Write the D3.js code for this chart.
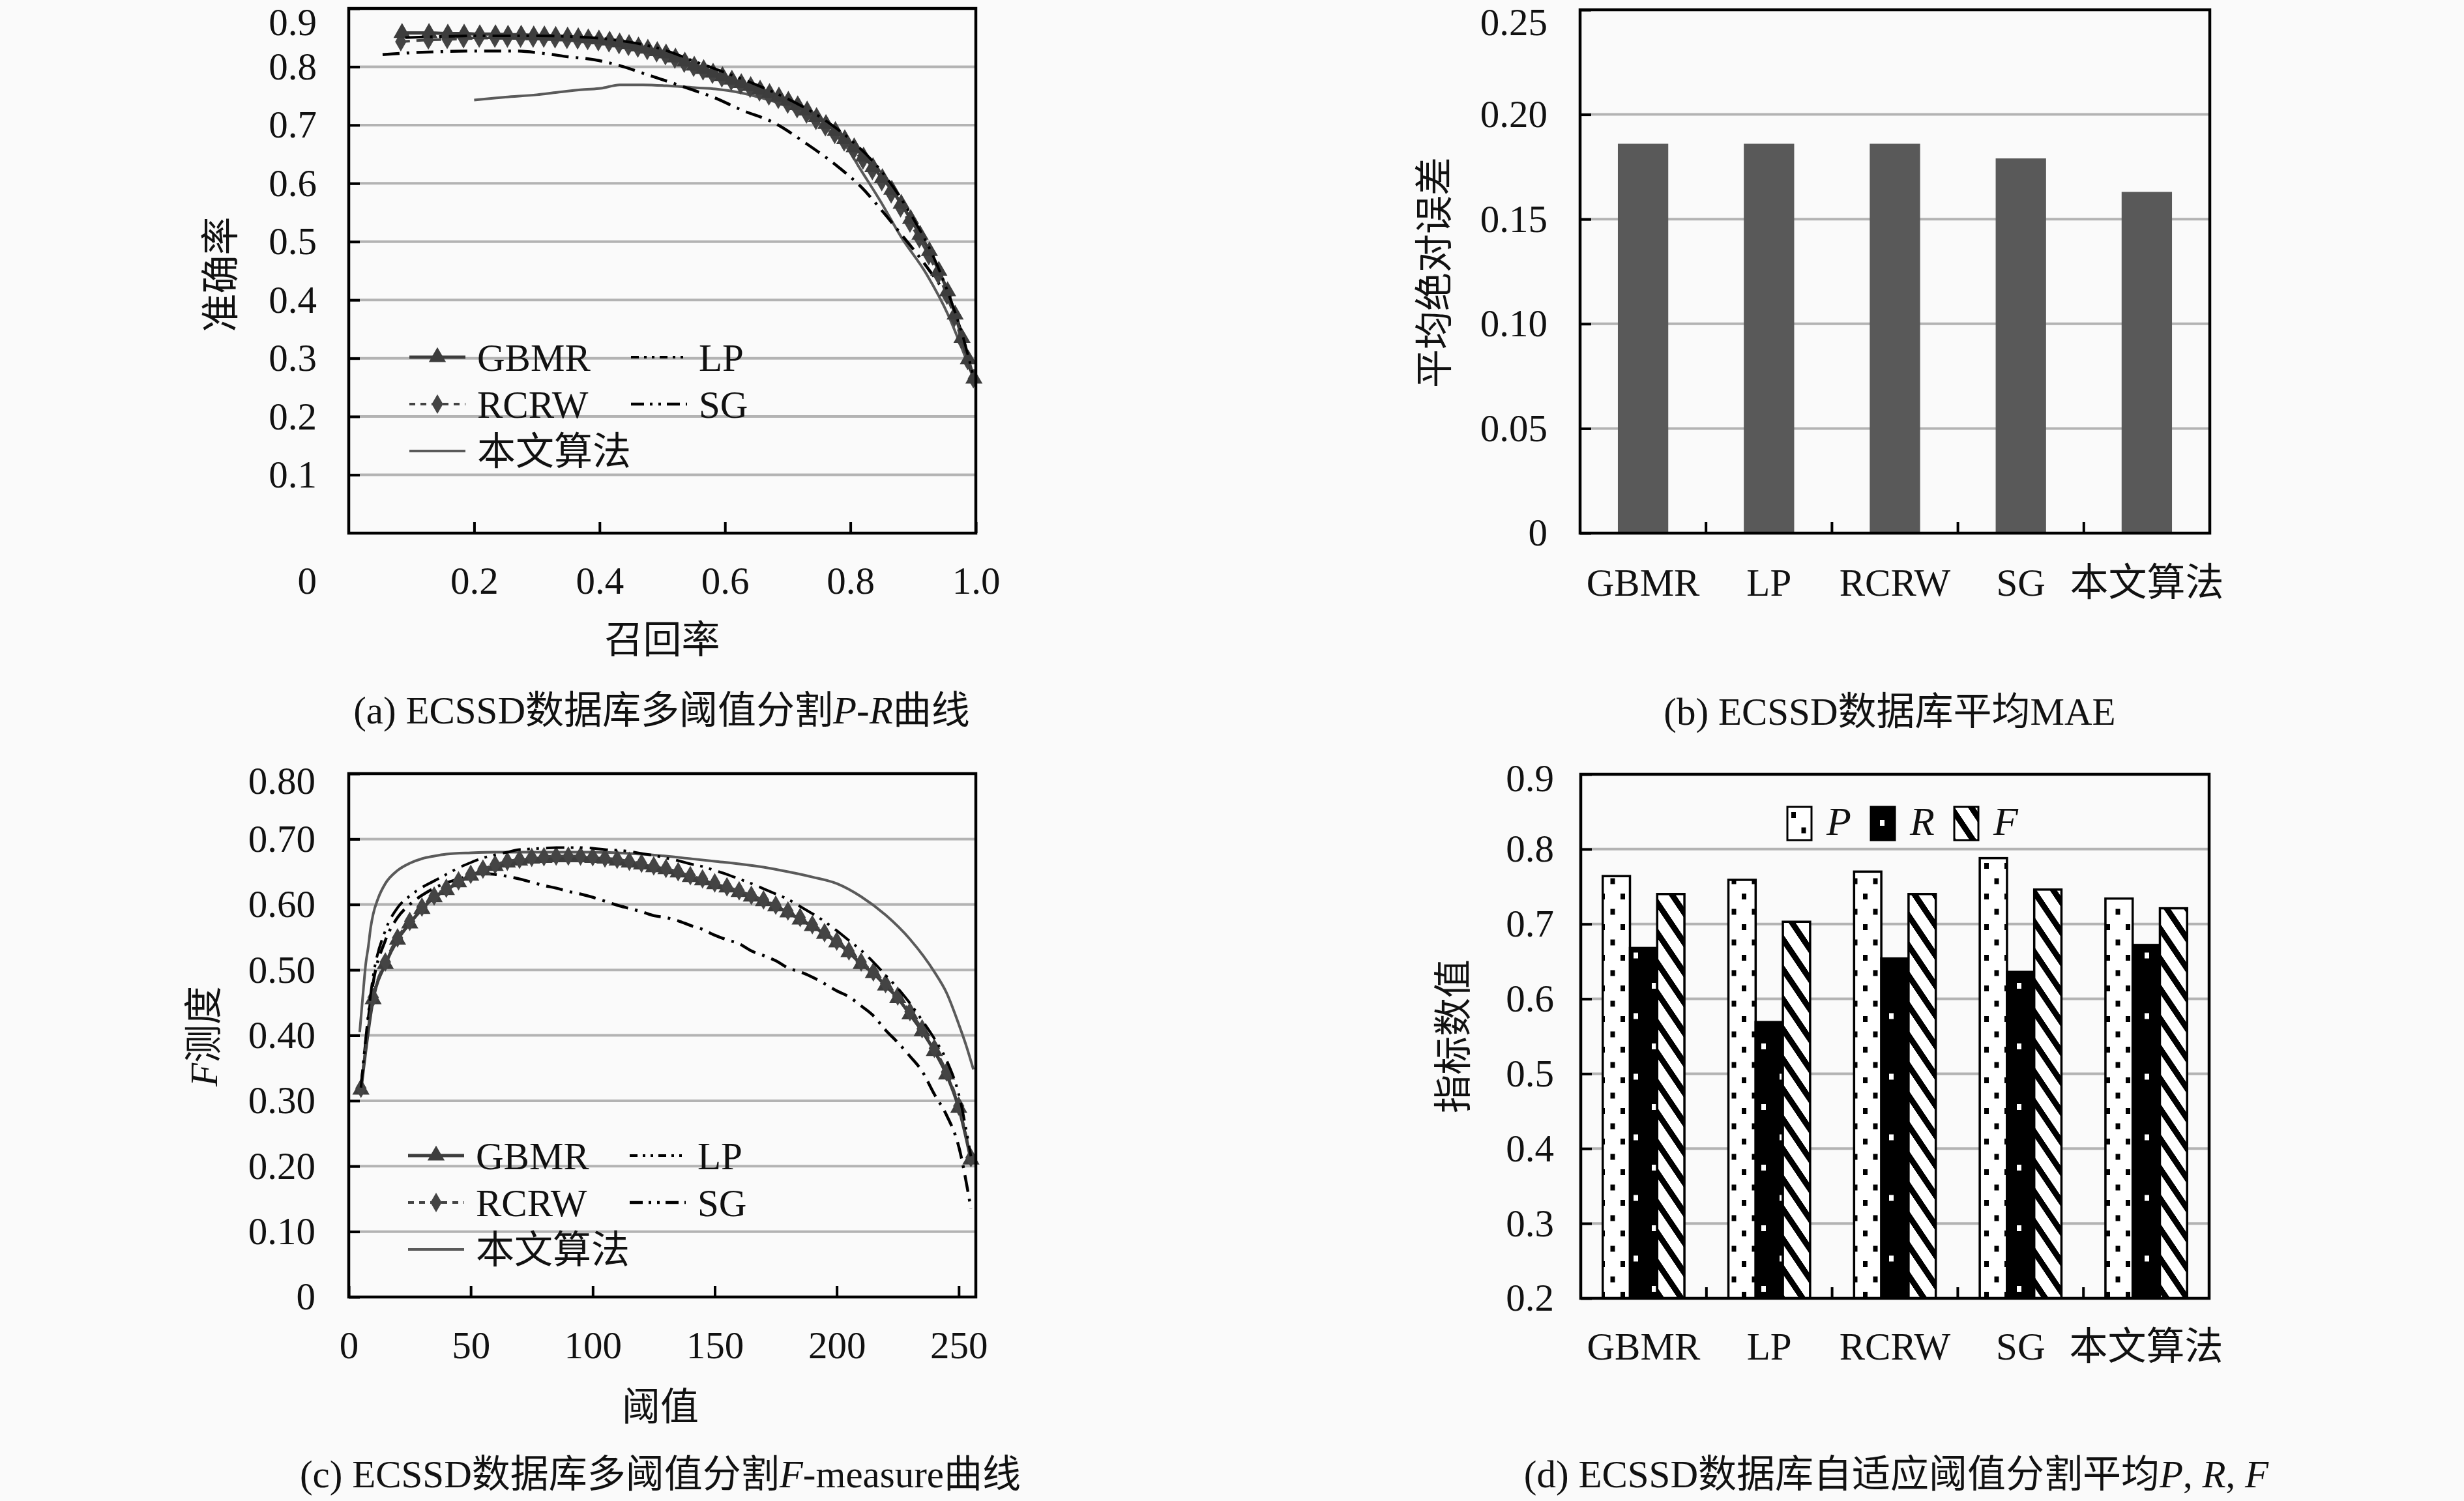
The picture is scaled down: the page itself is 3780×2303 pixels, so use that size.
<!DOCTYPE html>
<html>
<head>
<meta charset="utf-8">
<script src="https://cdn.jsdelivr.net/npm/d3@7"></script>
<style>
  body { margin: 0; background: #fafafa; }
</style>
</head>
<body>
<div id="chart"></div>
<script>
// ---------- DATA ----------
const methods = ["GBMR", "LP", "RCRW", "SG", "本文算法"];

// (b) mean absolute error
const maeValues = [0.186, 0.186, 0.186, 0.179, 0.163];

// (d) adaptive threshold P, R, F
const metricKeys = ["P", "R", "F"];
const precisionAvg = [0.764, 0.759, 0.770, 0.788, 0.734];
const recallAvg = [0.668, 0.569, 0.654, 0.636, 0.672];
const fAvg = [0.740, 0.703, 0.740, 0.746, 0.721];

// (a) precision-recall curves, [recall, precision]
const prGBMR = [[0.085,0.858],[0.128,0.858],[0.158,0.857],[0.184,0.857],[0.209,0.856],[0.234,0.856],[0.254,0.855],
  [0.275,0.855],[0.295,0.854],[0.312,0.854],[0.330,0.853],[0.349,0.852],[0.366,0.851],[0.382,0.849],[0.399,0.847],
  [0.416,0.845],[0.432,0.842],[0.447,0.839],[0.462,0.835],[0.477,0.831],[0.492,0.827],[0.506,0.823],[0.521,0.816],
  [0.536,0.809],[0.551,0.802],[0.566,0.796],[0.581,0.790],[0.596,0.784],[0.611,0.778],[0.626,0.772],[0.641,0.767],
  [0.656,0.761],[0.671,0.755],[0.686,0.749],[0.701,0.742],[0.716,0.734],[0.731,0.725],[0.746,0.714],[0.761,0.702],
  [0.776,0.690],[0.791,0.676],[0.806,0.662],[0.821,0.646],[0.836,0.628],[0.851,0.609],[0.866,0.589],[0.881,0.565],
  [0.896,0.539],[0.911,0.512],[0.926,0.484],[0.941,0.450],[0.955,0.415],[0.967,0.375],[0.978,0.335],[0.988,0.298],
  [0.997,0.265]];
const prRCRW = [[0.083,0.843],[0.127,0.846],[0.157,0.847],[0.183,0.848],[0.208,0.849],[0.233,0.849],[0.253,0.849],
  [0.274,0.849],[0.294,0.849],[0.311,0.849],[0.329,0.848],[0.348,0.847],[0.365,0.846],[0.381,0.845],[0.398,0.843],
  [0.415,0.841],[0.431,0.838],[0.446,0.835],[0.461,0.832],[0.476,0.828],[0.491,0.824],[0.505,0.819],[0.520,0.813],
  [0.535,0.806],[0.550,0.799],[0.565,0.793],[0.580,0.787],[0.595,0.781],[0.610,0.775],[0.625,0.769],[0.640,0.763],
  [0.655,0.757],[0.670,0.750],[0.685,0.744],[0.700,0.736],[0.715,0.728],[0.730,0.719],[0.745,0.708],[0.760,0.697],
  [0.775,0.684],[0.790,0.671],[0.805,0.656],[0.820,0.640],[0.835,0.622],[0.850,0.603],[0.865,0.582],[0.880,0.558],
  [0.895,0.532],[0.910,0.505],[0.925,0.476],[0.940,0.443],[0.954,0.408],[0.966,0.370],[0.977,0.332],[0.987,0.296],
  [0.996,0.265]];
const prLP = [[0.090,0.850],[0.150,0.852],[0.200,0.853],[0.250,0.853],[0.300,0.853],[0.350,0.852],[0.400,0.849],
  [0.450,0.842],[0.500,0.830],[0.550,0.810],[0.600,0.790],[0.650,0.769],[0.700,0.745],[0.750,0.715],[0.800,0.675],
  [0.850,0.620],[0.900,0.540],[0.930,0.480],[0.960,0.400],[0.980,0.335],[0.997,0.265]];
const prSG = [[0.054,0.821],[0.100,0.824],[0.150,0.826],[0.200,0.827],[0.265,0.827],[0.310,0.823],[0.351,0.817],
  [0.392,0.812],[0.432,0.802],[0.477,0.786],[0.514,0.773],[0.549,0.760],[0.581,0.748],[0.626,0.726],[0.678,0.704],
  [0.730,0.668],[0.782,0.627],[0.817,0.594],[0.852,0.551],[0.886,0.506],[0.921,0.458],[0.956,0.400],[0.976,0.348],
  [0.993,0.275]];
const prOurs = [[0.200,0.743],[0.250,0.748],[0.300,0.752],[0.332,0.756],[0.376,0.761],[0.402,0.763],[0.432,0.769],
  [0.469,0.769],[0.514,0.767],[0.555,0.764],[0.585,0.762],[0.622,0.756],[0.657,0.747],[0.692,0.735],[0.726,0.717],
  [0.761,0.694],[0.795,0.661],[0.812,0.631],[0.847,0.571],[0.881,0.508],[0.921,0.445],[0.956,0.374],[0.976,0.322],
  [0.996,0.266]];

// (c) F-measure vs threshold
const thresholds = [5,10,15,20,25,30,35,40,45,50,55,60,65,70,75,80,85,90,95,100,105,110,115,120,125,
  130,135,140,145,150,155,160,165,170,175,180,185,190,195,200,205,210,215,220,225,230,235,240,245,250,255];
const fGBMR = [0.317,0.455,0.509,0.546,0.571,0.593,0.611,0.622,0.634,0.644,0.652,0.659,0.664,0.667,0.670,0.671,
  0.672,0.672,0.672,0.671,0.670,0.667,0.664,0.661,0.657,0.654,0.649,0.642,0.637,0.631,0.626,0.619,0.612,0.605,
  0.597,0.588,0.577,0.567,0.555,0.542,0.527,0.509,0.495,0.476,0.457,0.432,0.406,0.376,0.340,0.289,0.210];
const fRCRW = [0.319,0.458,0.512,0.549,0.574,0.596,0.613,0.625,0.636,0.646,0.654,0.661,0.666,0.669,0.672,0.673,
  0.674,0.674,0.674,0.673,0.671,0.669,0.666,0.663,0.659,0.655,0.650,0.644,0.639,0.633,0.627,0.621,0.614,0.607,
  0.599,0.590,0.580,0.569,0.557,0.544,0.529,0.512,0.497,0.479,0.460,0.436,0.410,0.380,0.344,0.292,0.213];
const fLP = [0.320,0.490,0.560,0.595,0.613,0.626,0.636,0.646,0.656,0.664,0.671,0.676,0.680,0.684,0.685,0.686,
  0.687,0.687,0.687,0.686,0.684,0.683,0.681,0.678,0.675,0.671,0.667,0.662,0.658,0.652,0.646,0.639,0.632,0.624,
  0.616,0.608,0.597,0.586,0.574,0.560,0.545,0.530,0.512,0.492,0.472,0.449,0.423,0.395,0.362,0.310,0.215];
const fSG = [0.320,0.480,0.545,0.580,0.600,0.614,0.625,0.633,0.639,0.644,0.647,0.646,0.643,0.639,0.634,0.629,
  0.625,0.620,0.616,0.611,0.605,0.599,0.594,0.589,0.583,0.580,0.575,0.568,0.562,0.553,0.546,0.540,0.529,0.522,
  0.514,0.503,0.497,0.489,0.479,0.468,0.459,0.445,0.430,0.408,0.389,0.368,0.345,0.310,0.278,0.230,0.135];
const thrOurs = [4.5,6,7,8,9,10,12,15,20,25,30,35,40,50,60,70,80,90,100,110,120,130,140,150,160,170,180,190,
  200,210,220,230,240,245,250,253,256];
const fOurs = [0.405,0.470,0.510,0.535,0.565,0.585,0.609,0.632,0.652,0.663,0.670,0.674,0.677,0.679,0.680,0.680,
  0.680,0.680,0.680,0.679,0.677,0.674,0.670,0.666,0.662,0.657,0.650,0.642,0.632,0.612,0.584,0.547,0.497,0.465,
  0.417,0.385,0.348];

// tick values
const ticksAy = [0.1,0.2,0.3,0.4,0.5,0.6,0.7,0.8,0.9];
const ticksAx = [0.2,0.4,0.6,0.8,1.0];
const ticksBy = [0,0.05,0.10,0.15,0.20,0.25];
const ticksCy = [0,0.1,0.2,0.3,0.4,0.5,0.6,0.7,0.8];
const ticksCx = [0,50,100,150,200,250];
const ticksDy = [0.2,0.3,0.4,0.5,0.6,0.7,0.8,0.9];

// ---------- SETUP ----------
const W = 3780, H = 2303;
const FAMILY = '"Liberation Serif", "Noto Sans CJK SC", serif';
const FONT = 59;
const GRID = "#b3b3b3";
const INK = "#111";

const svg = d3.select("#chart").append("svg")
  .attr("width", W).attr("height", H)
  .style("background", "#fafafa")
  .attr("font-family", FAMILY)
  .attr("font-size", FONT);

const boxA = {left: 535, right: 1497, top: 13, bottom: 818};
const boxB = {left: 2424, right: 3390, top: 15, bottom: 818};
const boxC = {left: 535, right: 1497, top: 1187, bottom: 1990};
const boxD = {left: 2425, right: 3389, top: 1188, bottom: 1992};

function drawGrid(box, y, vals) {
  svg.append("g").selectAll("line").data(vals).join("line")
    .attr("x1", box.left).attr("x2", box.right)
    .attr("y1", d => y(d)).attr("y2", d => y(d))
    .attr("stroke", GRID).attr("stroke-width", 4);
}

function styleAxis(a) {
  a.attr("font-family", FAMILY).attr("font-size", FONT);
  a.select(".domain").remove();
  a.selectAll("line").attr("stroke", "#000").attr("stroke-width", 4);
  a.selectAll("text").attr("fill", INK);
}

// topShift pushes the highest label down so it stays inside the page
function drawYAxis(box, y, vals, fmt, pad, topShift) {
  const top = d3.max(vals);
  svg.append("g").attr("transform", "translate(" + box.left + ",0)")
    .call(d3.axisLeft(y).tickValues(vals).tickFormat(fmt)
      .tickSizeInner(-17).tickSizeOuter(0).tickPadding(pad))
    .call(styleAxis)
    .call(a => a.selectAll(".tick").filter(d => d === top).select("text")
      .attr("transform", "translate(0," + topShift + ")"));
}

function drawXAxis(box, axis, pad) {
  svg.append("g").attr("transform", "translate(0," + box.bottom + ")")
    .call(axis.tickSizeInner(-17).tickSizeOuter(0).tickPadding(pad))
    .call(styleAxis);
}

function drawFrame(box) {
  svg.append("rect")
    .attr("x", box.left).attr("y", box.top)
    .attr("width", box.right - box.left).attr("height", box.bottom - box.top)
    .attr("fill", "none").attr("stroke", "#000").attr("stroke-width", 4.5);
}

// text made of pieces, some italic
function richText(x, y, parts, rotate) {
  const t = svg.append("text")
    .attr("text-anchor", "middle").attr("dy", "0.35em").attr("fill", INK)
    .attr("transform", "translate(" + x + "," + y + ")" + (rotate ? " rotate(-90)" : ""));
  parts.forEach(p => {
    t.append("tspan").text(p[0]).attr("font-style", p[1] ? "italic" : null);
  });
  return t;
}

// line styles
const seriesStyle = {
  GBMR: {stroke: "#3d3d3d", width: 5, dash: null, marker: d3.symbolTriangle, size: 300},
  RCRW: {stroke: "#444", width: 4, dash: "14,10", marker: d3.symbolDiamond, size: 260},
  LP:   {stroke: "#000", width: 4, dash: "28,10,4,10,4,11", marker: null},
  SG:   {stroke: "#000", width: 4.5, dash: "26,11,4,11", marker: null},
  "本文算法": {stroke: "#5a5a5a", width: 4, dash: null, marker: null}
};

function drawSeries(x, y, pts, name) {
  const s = seriesStyle[name];
  const line = d3.line().x(d => x(d[0])).y(d => y(d[1])).curve(d3.curveMonotoneX);
  svg.append("path").datum(pts)
    .attr("d", line).attr("fill", "none")
    .attr("stroke", s.stroke).attr("stroke-width", s.width)
    .attr("stroke-dasharray", s.dash);
  if (s.marker) {
    svg.append("g").selectAll("path").data(pts).join("path")
      .attr("transform", d => "translate(" + x(d[0]) + "," + y(d[1]) + ")")
      .attr("d", d3.symbol(s.marker, s.size))
      .attr("fill", s.stroke);
  }
}

function drawLegend(x0, y0) {
  const items = [
    {name: "GBMR", col: 0, row: 0}, {name: "LP", col: 1, row: 0},
    {name: "RCRW", col: 0, row: 1}, {name: "SG", col: 1, row: 1},
    {name: "本文算法", col: 0, row: 2}
  ];
  items.forEach(it => {
    const s = seriesStyle[it.name];
    const lx = x0 + it.col * 340, ly = y0 + it.row * 72;
    svg.append("line")
      .attr("x1", lx).attr("x2", lx + 86).attr("y1", ly).attr("y2", ly)
      .attr("stroke", s.stroke).attr("stroke-width", s.width)
      .attr("stroke-dasharray", s.dash ? (it.col ? (it.name === "SG" ? "20,9,4,9,4,9" : "12,8,4,8,4,8") : "9,8") : null);
    if (s.marker) {
      svg.append("path").attr("transform", "translate(" + (lx + 43) + "," + ly + ")")
        .attr("d", d3.symbol(s.marker, s.size)).attr("fill", s.stroke);
    }
    svg.append("text").attr("x", lx + 104).attr("y", ly).attr("dy", "0.35em")
      .attr("fill", INK).text(it.name);
  });
}

// ---------- (a) P-R ----------
const xA = d3.scaleLinear().domain([0, 1]).range([boxA.left, boxA.right]);
const yA = d3.scaleLinear().domain([0, 0.9]).range([boxA.bottom, boxA.top]);
drawGrid(boxA, yA, ticksAy.slice(0, -1));
drawYAxis(boxA, yA, ticksAy, d3.format(".1f"), 49, 22);
drawXAxis(boxA, d3.axisBottom(xA).tickValues(ticksAx).tickFormat(d3.format(".1f")), 51);
svg.append("text").attr("x", xA(0) - 49).attr("y", yA(0) + 51).attr("dy", "0.71em")
  .attr("text-anchor", "end").attr("fill", INK).text("0");
drawSeries(xA, yA, prOurs, "本文算法");
drawSeries(xA, yA, prSG, "SG");
drawSeries(xA, yA, prRCRW, "RCRW");
drawSeries(xA, yA, prGBMR, "GBMR");
drawSeries(xA, yA, prLP, "LP");
drawFrame(boxA);
drawLegend(628, 548);
richText(1016, 981, [["召回率", false]]);
richText(338, 421, [["准确率", false]], true);
richText(1015, 1089, [["(a) ECSSD数据库多阈值分割", false], ["P", true], ["-", false], ["R", true], ["曲线", false]]);

// ---------- (b) MAE ----------
const xB = d3.scaleBand().domain(methods).range([boxB.left, boxB.right]).paddingInner(0.6).paddingOuter(0.3);
const yB = d3.scaleLinear().domain([0, 0.25]).range([boxB.bottom, boxB.top]);
drawGrid(boxB, yB, ticksBy.slice(1, -1));
drawYAxis(boxB, yB, ticksBy, d => d === 0 ? "0" : d3.format(".2f")(d), 50, 20);
svg.append("g").selectAll("rect").data(methods).join("rect")
  .attr("x", d => xB(d)).attr("width", xB.bandwidth())
  .attr("y", (d, i) => yB(maeValues[i])).attr("height", (d, i) => yB(0) - yB(maeValues[i]))
  .attr("fill", "#595959");
svg.append("g").selectAll("line").data(methods.slice(1)).join("line")
  .attr("x1", d => xB(d) - xB.step() * 0.3).attr("x2", d => xB(d) - xB.step() * 0.3)
  .attr("y1", boxB.bottom).attr("y2", boxB.bottom - 17)
  .attr("stroke", "#000").attr("stroke-width", 4);
svg.append("g").selectAll("text").data(methods).join("text")
  .attr("x", d => xB(d) + xB.bandwidth() / 2).attr("y", boxB.bottom + 75).attr("dy", "0.35em")
  .attr("text-anchor", "middle").attr("fill", INK).text(d => d);
drawFrame(boxB);
richText(2200, 418, [["平均绝对误差", false]], true);
richText(2899, 1091, [["(b) ECSSD数据库平均MAE", false]]);

// ---------- (c) F-measure ----------
const xC = d3.scaleLinear().domain([0, 257]).range([boxC.left, boxC.right]);
const yC = d3.scaleLinear().domain([0, 0.8]).range([boxC.bottom, boxC.top]);
drawGrid(boxC, yC, ticksCy.slice(1, -1));
drawYAxis(boxC, yC, ticksCy, d => d === 0 ? "0" : d3.format(".2f")(d), 51, 12);
drawXAxis(boxC, d3.axisBottom(xC).tickValues(ticksCx).tickFormat(d3.format("d")), 52);
drawSeries(xC, yC, d3.zip(thrOurs, fOurs), "本文算法");
drawSeries(xC, yC, d3.zip(thresholds, fSG), "SG");
drawSeries(xC, yC, d3.zip(thresholds, fGBMR), "GBMR");
drawSeries(xC, yC, d3.zip(thresholds, fRCRW), "RCRW");
drawSeries(xC, yC, d3.zip(thresholds, fLP), "LP");
drawFrame(boxC);
drawLegend(626, 1773);
richText(1013, 2158, [["阈值", false]]);
richText(312, 1590, [["F", true], ["测度", false]], true);
richText(1013, 2261, [["(c) ECSSD数据库多阈值分割", false], ["F", true], ["-measure曲线", false]]);

// ---------- (d) adaptive P R F ----------
const defs = svg.append("defs");
const pP = defs.append("pattern").attr("id", "patP").attr("patternUnits", "userSpaceOnUse")
  .attr("width", 31).attr("height", 47);
pP.append("rect").attr("width", 31).attr("height", 47).attr("fill", "#fff");
pP.append("rect").attr("x", 6).attr("y", 8).attr("width", 7).attr("height", 9).attr("fill", "#000");
pP.append("rect").attr("x", 21.5).attr("y", 31.5).attr("width", 7).attr("height", 9).attr("fill", "#000");
const pR = defs.append("pattern").attr("id", "patR").attr("patternUnits", "userSpaceOnUse")
  .attr("width", 56).attr("height", 93);
pR.append("rect").attr("width", 56).attr("height", 93).attr("fill", "#000");
pR.append("rect").attr("x", 14).attr("y", 20).attr("width", 7).attr("height", 9).attr("fill", "#fff");
pR.append("rect").attr("x", 42).attr("y", 66.5).attr("width", 7).attr("height", 9).attr("fill", "#fff");
const pF = defs.append("pattern").attr("id", "patF").attr("patternUnits", "userSpaceOnUse")
  .attr("width", 20).attr("height", 46).attr("patternTransform", "skewY(56)");
pF.append("rect").attr("width", 20).attr("height", 46).attr("fill", "#fff");
pF.append("rect").attr("width", 20).attr("height", 16).attr("fill", "#000");
const patternOf = {P: "url(#patP)", R: "url(#patR)", F: "url(#patF)"};

const metricValues = {P: precisionAvg, R: recallAvg, F: fAvg};
const xD = d3.scaleBand().domain(methods).range([boxD.left, boxD.right]).paddingInner(0.35).paddingOuter(0.175);
const xDi = d3.scaleBand().domain(metricKeys).range([0, xD.bandwidth()]);
const yD = d3.scaleLinear().domain([0.2, 0.9]).range([boxD.bottom, boxD.top]);
drawGrid(boxD, yD, ticksDy.slice(1, -1));
drawYAxis(boxD, yD, ticksDy, d3.format(".1f"), 41, 7);
const barsD = [];
methods.forEach((m, i) => metricKeys.forEach(k => barsD.push({m: m, k: k, v: metricValues[k][i]})));
svg.append("g").selectAll("rect").data(barsD).join("rect")
  .attr("x", d => xD(d.m) + xDi(d.k)).attr("width", xDi.bandwidth())
  .attr("y", d => yD(d.v)).attr("height", d => yD(0.2) - yD(d.v))
  .attr("fill", d => patternOf[d.k]).attr("stroke", "#000").attr("stroke-width", 3.5);
svg.append("g").selectAll("line").data(methods.slice(1)).join("line")
  .attr("x1", d => xD(d) - xD.step() * 0.175).attr("x2", d => xD(d) - xD.step() * 0.175)
  .attr("y1", boxD.bottom).attr("y2", boxD.bottom - 17)
  .attr("stroke", "#000").attr("stroke-width", 4);
svg.append("g").selectAll("text").data(methods).join("text")
  .attr("x", d => xD(d) + xD.bandwidth() / 2).attr("y", boxD.bottom + 73).attr("dy", "0.35em")
  .attr("text-anchor", "middle").attr("fill", INK).text(d => d);
drawFrame(boxD);
// legend
const legD = svg.append("g").selectAll("g").data(metricKeys).join("g")
  .attr("transform", (d, i) => "translate(" + (2742 + i * 128) + ",1238)");
legD.append("rect").attr("width", 37).attr("height", 51)
  .attr("fill", d => patternOf[d]).attr("stroke", "#000").attr("stroke-width", 3);
legD.append("text").attr("x", 60).attr("y", 43).attr("font-style", "italic")
  .attr("font-size", 62).attr("fill", INK).text(d => d);
richText(2229, 1590, [["指标数值", false]], true);
richText(2909, 2261, [["(d) ECSSD数据库自适应阈值分割平均", false], ["P", true], [", ", false], ["R", true], [", ", false], ["F", true]]);
</script>
</body>
</html>
